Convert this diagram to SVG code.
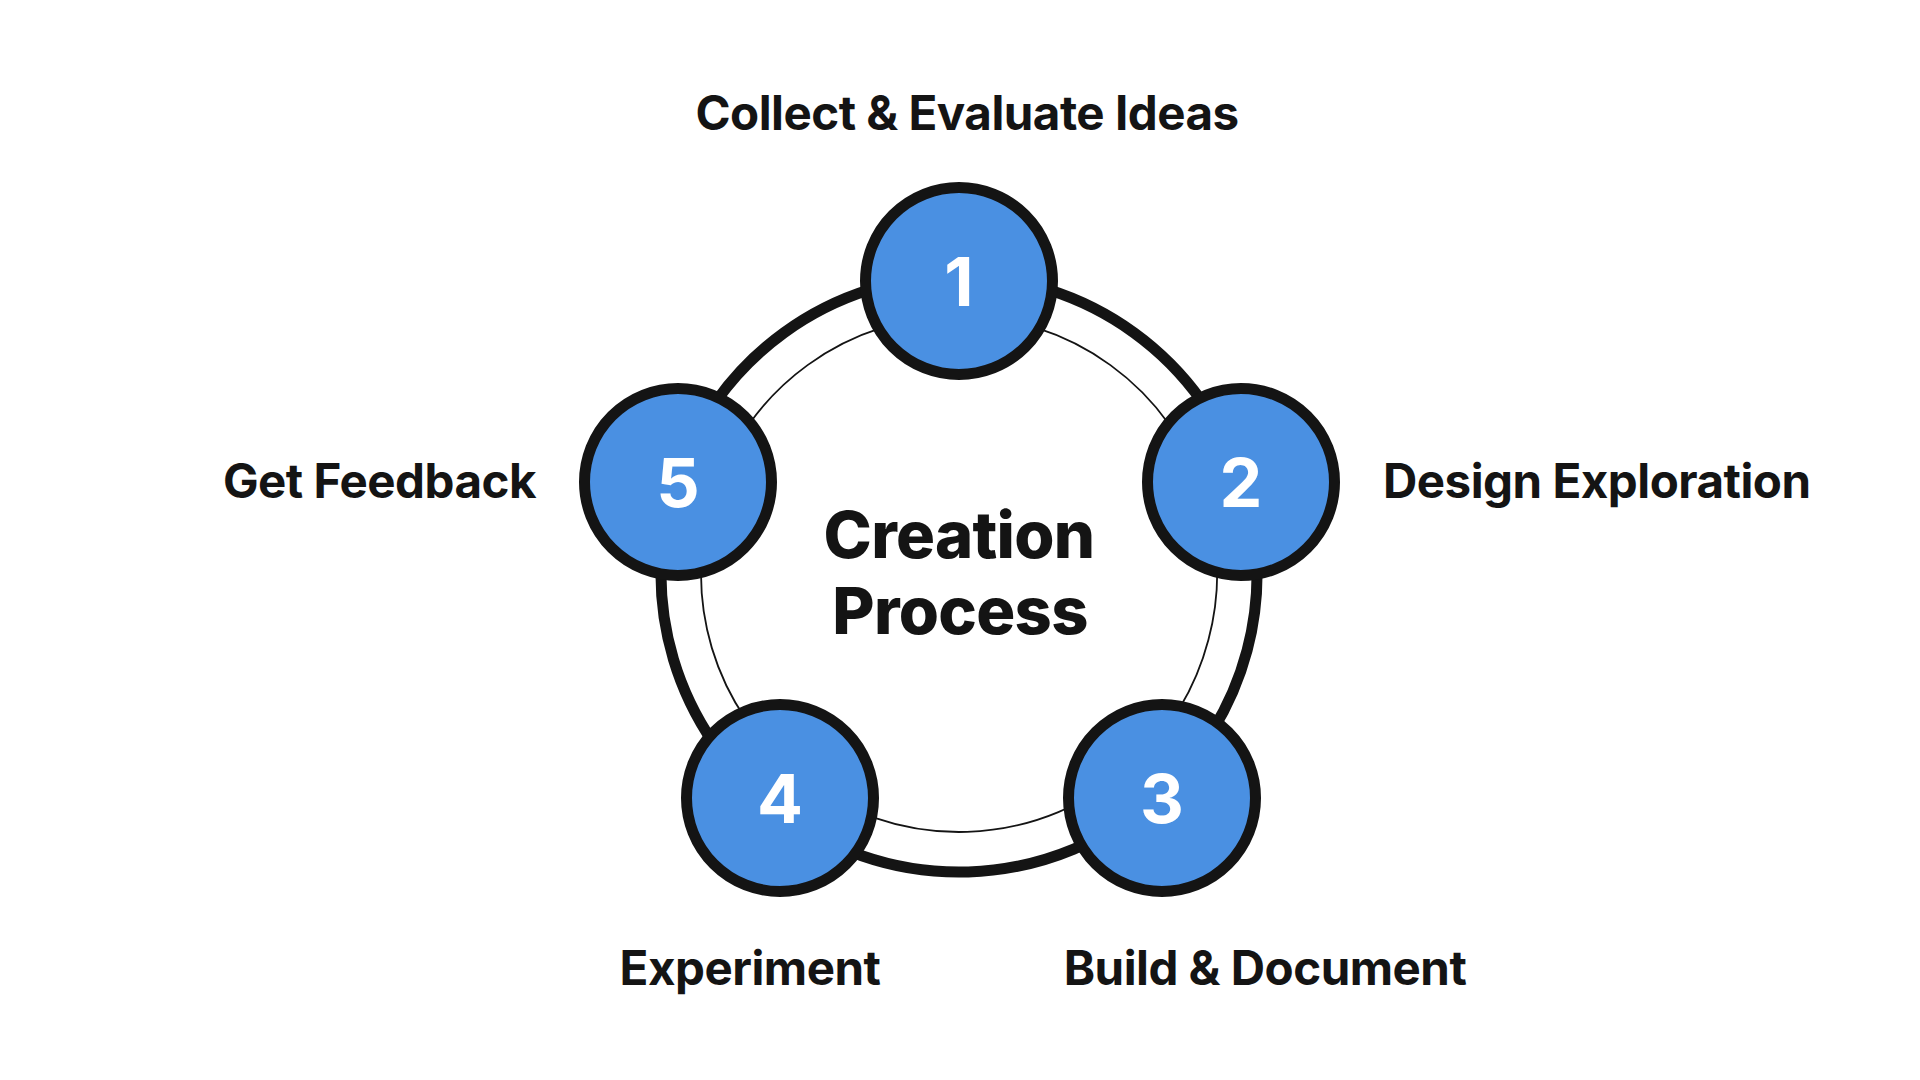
<svg xmlns="http://www.w3.org/2000/svg" width="1920" height="1080" viewBox="0 0 1920 1080">
  <style>
    .thick { fill: none; stroke: #141414; stroke-width: 11; }
    .thin { fill: none; stroke: #141414; stroke-width: 1.8; }
    .node { fill: #4A90E2; stroke: #141414; stroke-width: 11; }
    .num { font-family: Inter, "Liberation Sans", sans-serif; font-weight: 700; font-size: 68px; fill: #FFFFFF; text-anchor: middle; }
    .label { font-family: Inter, "Liberation Sans", sans-serif; font-weight: 700; font-size: 47.5px; fill: #141414; letter-spacing: -0.5px; }
    .title { font-family: Inter, "Liberation Sans", sans-serif; font-weight: 800; font-size: 65px; fill: #141414; text-anchor: middle; letter-spacing: -0.7px; }
  </style>
  <rect x="0" y="0" width="1920" height="1080" fill="#FFFFFF"/>
  <g id="connectors">
    <path class="thick" d="M959,276 A298,298 0 0 1 1242.3,481.4"/>
    <path class="thick" d="M1242.3,481.4 A298,298 0 0 1 1159.2,794.8"/>
    <path class="thick" d="M1159.2,794.8 A298,298 0 0 1 773.1,806.9"/>
    <path class="thick" d="M773.1,806.9 A298,298 0 0 1 675.7,481.4"/>
    <path class="thick" d="M675.7,481.4 A298,298 0 0 1 959,276"/>
    <path class="thin" d="M959,316 A258,258 0 0 1 1204.2,493.8"/>
    <path class="thin" d="M1204.2,493.8 A258,258 0 0 1 1132.3,765.1"/>
    <path class="thin" d="M1132.3,765.1 A258,258 0 0 1 798,775.6"/>
    <path class="thin" d="M798,775.6 A258,258 0 0 1 713.8,493.8"/>
    <path class="thin" d="M713.8,493.8 A258,258 0 0 1 959,316"/>
  </g>
  <g id="center">
    <text class="title" x="959" y="558">Creation</text>
    <text class="title" x="960" y="634">Process</text>
  </g>
  <g id="node1">
    <circle class="node" cx="959" cy="281" r="93.5"/>
    <text class="num" x="959" y="306">1</text>
    <text class="label" x="967" y="130" text-anchor="middle">Collect &amp; Evaluate Ideas</text>
  </g>
  <g id="node2">
    <circle class="node" cx="1241" cy="482" r="93.5"/>
    <text class="num" x="1241" y="507">2</text>
    <text class="label" x="1383" y="498">Design Exploration</text>
  </g>
  <g id="node3">
    <circle class="node" cx="1162" cy="798" r="93.5"/>
    <text class="num" x="1162" y="823">3</text>
    <text class="label" x="1265" y="985" text-anchor="middle">Build &amp; Document</text>
  </g>
  <g id="node4">
    <circle class="node" cx="780" cy="798" r="93.5"/>
    <text class="num" x="780" y="823">4</text>
    <text class="label" x="750" y="985" text-anchor="middle">Experiment</text>
  </g>
  <g id="node5">
    <circle class="node" cx="678" cy="482" r="93.5"/>
    <text class="num" x="678" y="507">5</text>
    <text class="label" x="536" y="498" text-anchor="end">Get Feedback</text>
  </g>
</svg>
